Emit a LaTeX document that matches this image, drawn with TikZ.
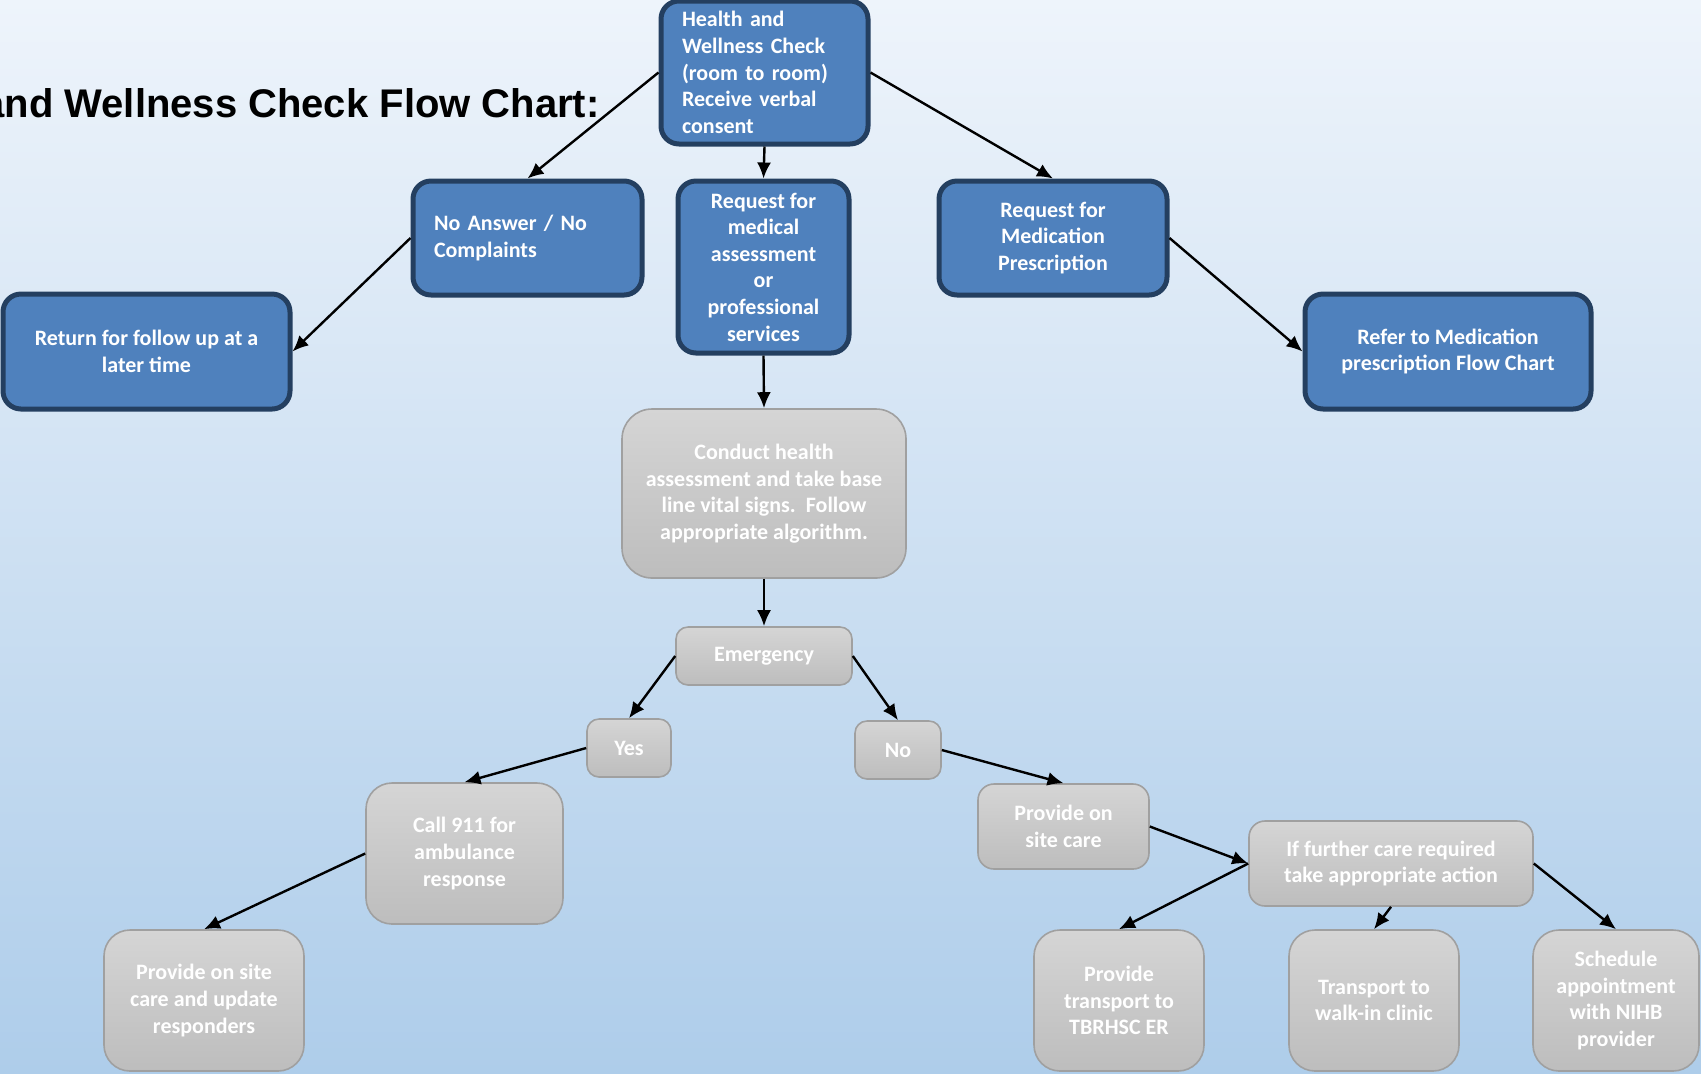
\documentclass[tikz,border=0pt]{standalone}
\usepackage{fontspec}
\setmainfont{Carlito}
\newfontfamily\titlefont{Liberation Sans}
\usetikzlibrary{arrows.meta}
\definecolor{bgtop}{HTML}{EEF4FB}
\definecolor{bgbot}{HTML}{AECDEA}
\definecolor{nodeblue}{HTML}{4F81BD}
\definecolor{borderblue}{HTML}{243F60}
\definecolor{grayT}{HTML}{D5D5D5}
\definecolor{grayB}{HTML}{BDBDBD}
\definecolor{grayline}{HTML}{A0A0A0}
\begin{document}
\begin{tikzpicture}[x=0.5pt,y=-0.5pt,
  nbox/.style={font=\bfseries\fontsize{11}{13.3}\selectfont, text=white, inner sep=0pt, align=center},
  bluebox/.style={nbox, fill=nodeblue, draw=borderblue, line width=2.5pt, rounded corners=9pt},
  graybox/.style={nbox, top color=grayT, bottom color=grayB, draw=grayline, line width=0.8pt, rounded corners=6pt},
  arr/.style={-{Latex[length=8pt,width=7pt]}, line width=1.2pt, black}]
\useasboundingbox (0,0) rectangle (1701,1073);
\clip (0,0) rectangle (1701,1073);
\shade[top color=bgtop, bottom color=bgbot] (0,0) rectangle (1701,1073);

\node[font=\titlefont\bfseries\fontsize{20}{24}\selectfont, anchor=base east, inner sep=0pt] (title) at (600,117) {and Wellness Check Flow Chart:};

% blue nodes
\node[bluebox, minimum width=103.5pt, minimum height=71.5pt, text width=82.5pt, inner xsep=10.5pt, align=left] (top) at (764.5,72.5)
  {Health and\\Wellness Check\\(room to room)\\Receive verbal\\consent};
\node[bluebox, minimum width=114.5pt, minimum height=57pt, text width=93.5pt, inner xsep=10.5pt, align=left] (noans) at (527.5,238)
  {No Answer / No\\Complaints};
\node[bluebox, minimum width=85.5pt, minimum height=86pt] (reqmed) at (763.5,267)
  {Request for\\medical\\assessment\\or\\professional\\services};
\node[bluebox, minimum width=114pt, minimum height=57pt] (reqmedic) at (1053,238)
  {Request for\\Medication\\Prescription};
\node[bluebox, minimum width=143.5pt, minimum height=57.5pt] (ret) at (146.5,351.5)
  {Return for follow up at a\\later time};
\node[bluebox, minimum width=143pt, minimum height=57.5pt] (refer) at (1448,351.5)
  {Refer to Medication\\prescription Flow Chart};

% gray nodes
\node[graybox, rounded corners=15pt, minimum width=142pt, minimum height=84.5pt] (conduct) at (764,493.5)
  {Conduct health\\assessment and take base\\line vital signs.\ \ Follow\\appropriate algorithm.};
\node[graybox, minimum width=88pt, minimum height=29pt] (emerg) at (764,656) {Emergency};
\node[graybox, minimum width=42pt, minimum height=29pt] (yes) at (629,748) {Yes};
\node[graybox, minimum width=43pt, minimum height=29pt] (no) at (898,750) {No};
\node[graybox, rounded corners=13pt, minimum width=98.5pt, minimum height=70.5pt] (call) at (464.5,853.5)
  {Call 911 for\\ambulance\\response};
\node[graybox, rounded corners=8pt, minimum width=85.5pt, minimum height=42.5pt] (site) at (1063.5,826.5)
  {Provide on\\site care};
\node[graybox, rounded corners=8pt, minimum width=142pt, minimum height=42.5pt] (further) at (1391,863.5)
  {If further care required\\take appropriate action};
\node[graybox, rounded corners=13pt, minimum width=100pt, minimum height=70.5pt] (upd) at (204,1000.5)
  {Provide on site\\care and update\\responders};
\node[graybox, rounded corners=13pt, minimum width=85pt, minimum height=70.5pt] (transp) at (1119,1000.5)
  {Provide\\transport to\\TBRHSC ER};
\node[graybox, rounded corners=13pt, minimum width=85pt, minimum height=70.5pt] (walk) at (1374,1000.5)
  {Transport to\\walk-in clinic};
\node[graybox, rounded corners=13pt, minimum width=83pt, minimum height=70.5pt] (sched) at (1616,1000.5)
  {Schedule\\appointment\\with NIHB\\provider};

% connectors
\draw[arr] (top.west) -- (noans.north);
\draw[arr] (top.south) -- (reqmed.north);
\draw[arr] (top.east) -- (reqmedic.north);
\draw[arr] (noans.west) -- (ret.east);
\draw[arr] (reqmedic.east) -- (refer.west);
\draw[arr] (reqmed.south) -- (conduct.north);
\draw[arr] (conduct.south) -- (emerg.north);
\draw[arr] (emerg.west) -- (yes.north);
\draw[arr] (emerg.east) -- (no.north);
\draw[arr] (yes.west) -- (call.north);
\draw[arr] (no.east) -- (site.north);
\draw[arr] (call.west) -- (upd.north);
\draw[arr] (site.east) -- (further.west);
\draw[arr] (further.west) -- (transp.north);
\draw[arr] (further.south) -- (walk.north);
\draw[arr] (further.east) -- (sched.north);
\end{tikzpicture}
\end{document}
